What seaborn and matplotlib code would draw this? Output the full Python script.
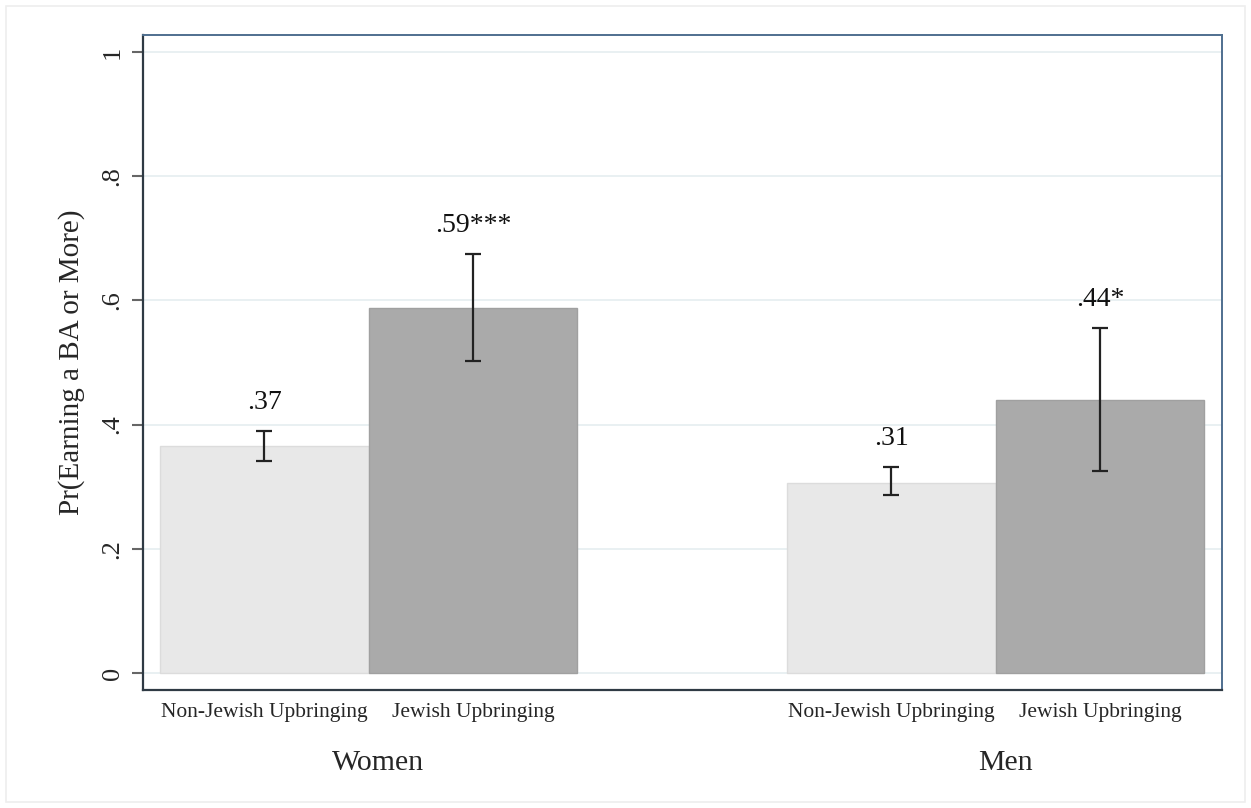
import pandas as pd
import seaborn as sns
import matplotlib.pyplot as plt
from matplotlib.patches import Rectangle
from matplotlib.transforms import blended_transform_factory

#%% data
groups = ['Women', 'Women', 'Men', 'Men']
upbringing = ['Non-Jewish Upbringing', 'Jewish Upbringing',
              'Non-Jewish Upbringing', 'Jewish Upbringing']
prob = [0.366, 0.588, 0.306, 0.440]
ci_low = [0.342, 0.503, 0.286, 0.326]
ci_high = [0.390, 0.675, 0.332, 0.556]
value_labels = ['.37', '.59***', '.31', '.44*']

df = pd.DataFrame({'group': groups, 'upbringing': upbringing, 'prob': prob,
                   'lo': ci_low, 'hi': ci_high, 'lab': value_labels})

#%% style
sns.set_style('white')
plt.rcParams['font.family'] = ['Liberation Serif', 'DejaVu Serif']

fig = plt.figure(figsize=(12.51, 8.08), dpi=100)
ax = fig.add_axes([0.1143, 0.146, 0.8625, 0.8107])

light = '#e8e8e8'
dark = '#aaaaaa'
sns.barplot(data=df, x='group', y='prob', hue='upbringing',
            order=['Women', 'Men'],
            hue_order=['Non-Jewish Upbringing', 'Jewish Upbringing'],
            palette=[light, dark], saturation=1, width=0.665,
            errorbar=None, legend=False, ax=ax, zorder=2)

edge_cols = ['#dcdcdc', '#a0a0a0']
ticks, tick_labels = [], []
for cont, hue_name, ec in zip(ax.containers,
                              ['Non-Jewish Upbringing', 'Jewish Upbringing'],
                              edge_cols):
    for bar, grp in zip(cont, ['Women', 'Men']):
        bar.set_edgecolor(ec)
        bar.set_linewidth(1.0)
        row = df[(df.group == grp) & (df.upbringing == hue_name)].iloc[0]
        xc = bar.get_x() + bar.get_width() / 2
        ax.errorbar(xc, row.prob, yerr=[[row.prob - row.lo], [row.hi - row.prob]],
                    fmt='none', ecolor='#222222', elinewidth=1.6,
                    capsize=6, capthick=1.6, zorder=3)
        ax.text(xc, row.hi + 0.045, row.lab, ha='center', va='center',
                fontsize=20, color='#111111')
        ticks.append(xc)
        tick_labels.append(hue_name)

ax.set_xticks(ticks)
ax.set_xticklabels(tick_labels, fontsize=15.5)
ax.tick_params(axis='x', length=0, pad=9)

ax.set_xlim(-0.36, 1.361)
ax.set_ylim(-0.0274, 1.0274)
ax.set_yticks([0, 0.2, 0.4, 0.6, 0.8, 1])
ax.set_yticklabels(['0', '.2', '.4', '.6', '.8', '1'], rotation=90,
                   va='center', fontsize=19)
ax.tick_params(axis='y', left=True, length=8, width=1.5, color='#666666', pad=6)
ax.grid(axis='y', color='#e9f0f2', linewidth=1.4, zorder=0)
ax.set_axisbelow(True)

ax.set_xlabel('')
ax.set_ylabel('Pr(Earning a BA or More)', fontsize=21, labelpad=12)

for side in ['left', 'bottom']:
    ax.spines[side].set_color('#2f3a44')
    ax.spines[side].set_linewidth(1.6)
for side in ['top', 'right']:
    ax.spines[side].set_color('#4f6f8f')
    ax.spines[side].set_linewidth(1.4)

# group labels under the category labels
trans = blended_transform_factory(ax.transData, fig.transFigure)
for i, g in enumerate(['Women', 'Men']):
    fig.text(i + 0.015, 1 - 763 / 808, g, transform=trans, ha='center',
             va='center', fontsize=21.5)

# faint outer frame
fig.patches.append(Rectangle((0.005, 0.007), 0.99, 0.986, transform=fig.transFigure,
                             fill=False, edgecolor='#eeeeee', linewidth=1.2))

fig.savefig('out.png', dpi=100)
